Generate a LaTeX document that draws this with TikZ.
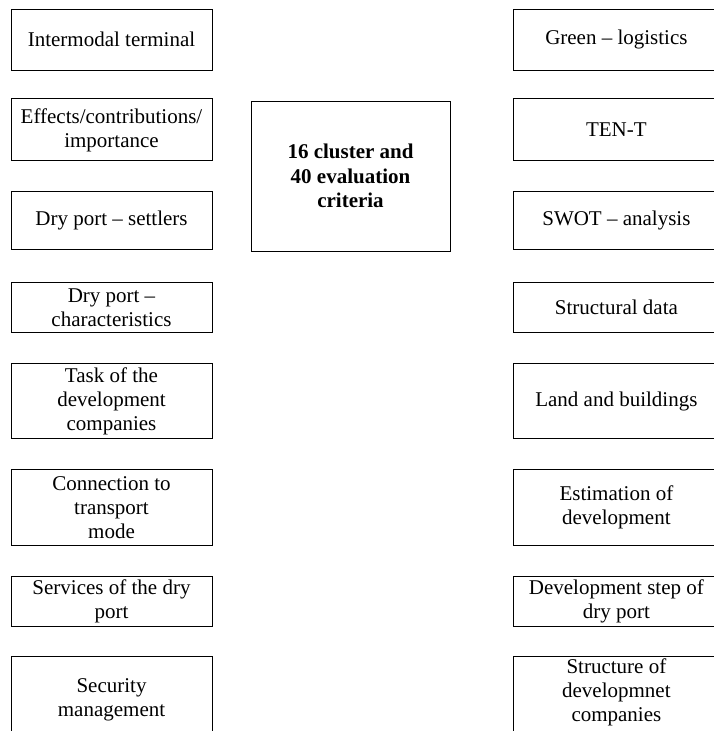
\documentclass[tikz,border=0pt]{standalone}
\usepackage{fontspec}
\setmainfont{Liberation Serif}
\usetikzlibrary{positioning}
\tikzset{
  crit/.style={draw=black, line width=0.9pt, minimum width=201pt, align=center,
    inner sep=2pt, font=\fontsize{21}{24}\selectfont},
  critr/.style={crit, minimum width=206pt},
  core/.style={crit, minimum width=199pt, minimum height=150pt,
    font=\fontsize{21}{24.5}\selectfont\bfseries}
}

\begin{document}
\begin{tikzpicture}[x=1pt, y=-1pt, node distance=30pt and 300.5pt]
  \useasboundingbox (0,0) rectangle (713,731);

  % left column
  \node[crit, minimum height=61pt] (term) at (111.5,39.5) {Intermodal terminal};
  \node[crit, minimum height=62pt, below=28pt of term] (effect) {Effects/contributions/\\importance};
  \node[crit, minimum height=58pt, below=of effect] (settle) {Dry port -- settlers};
  \node[crit, minimum height=50pt, below=32pt of settle] (charac) {Dry port --\\characteristics};
  \node[crit, minimum height=75pt, below=of charac] (task) {Task of the\\development\\companies};
  \node[crit, minimum height=76pt, below=of task] (conn) {Connection to\\transport\\mode};
  \node[crit, minimum height=50pt, below=of conn] (serv) {Services of the dry\\port};
  \node[crit, minimum height=88pt, below=29pt of serv] (secur) {Security\\management};

  % centre
  \node[core] (core) at (350.5,176) {16 cluster and\\40 evaluation\\criteria};

  % right column
  \node[critr, minimum height=61pt, right=of term] (green) {Green -- logistics};
  \node[critr, minimum height=62pt, right=of effect] (tent) {TEN-T};
  \node[critr, minimum height=58pt, right=of settle] (swot) {SWOT -- analysis};
  \node[critr, minimum height=50pt, right=of charac] (struc) {Structural data};
  \node[critr, minimum height=75pt, right=of task] (land) {Land and buildings};
  \node[critr, minimum height=76pt, right=of conn] (estim) {Estimation of\\development};
  \node[critr, minimum height=50pt, right=of serv] (devstep) {Development step of\\dry port};
  \node[critr, inner ysep=2pt, below=29pt of devstep] (compst) {Structure of\\developmnet\\companies\rule[-30pt]{0pt}{30pt}};
\end{tikzpicture}
\end{document}
